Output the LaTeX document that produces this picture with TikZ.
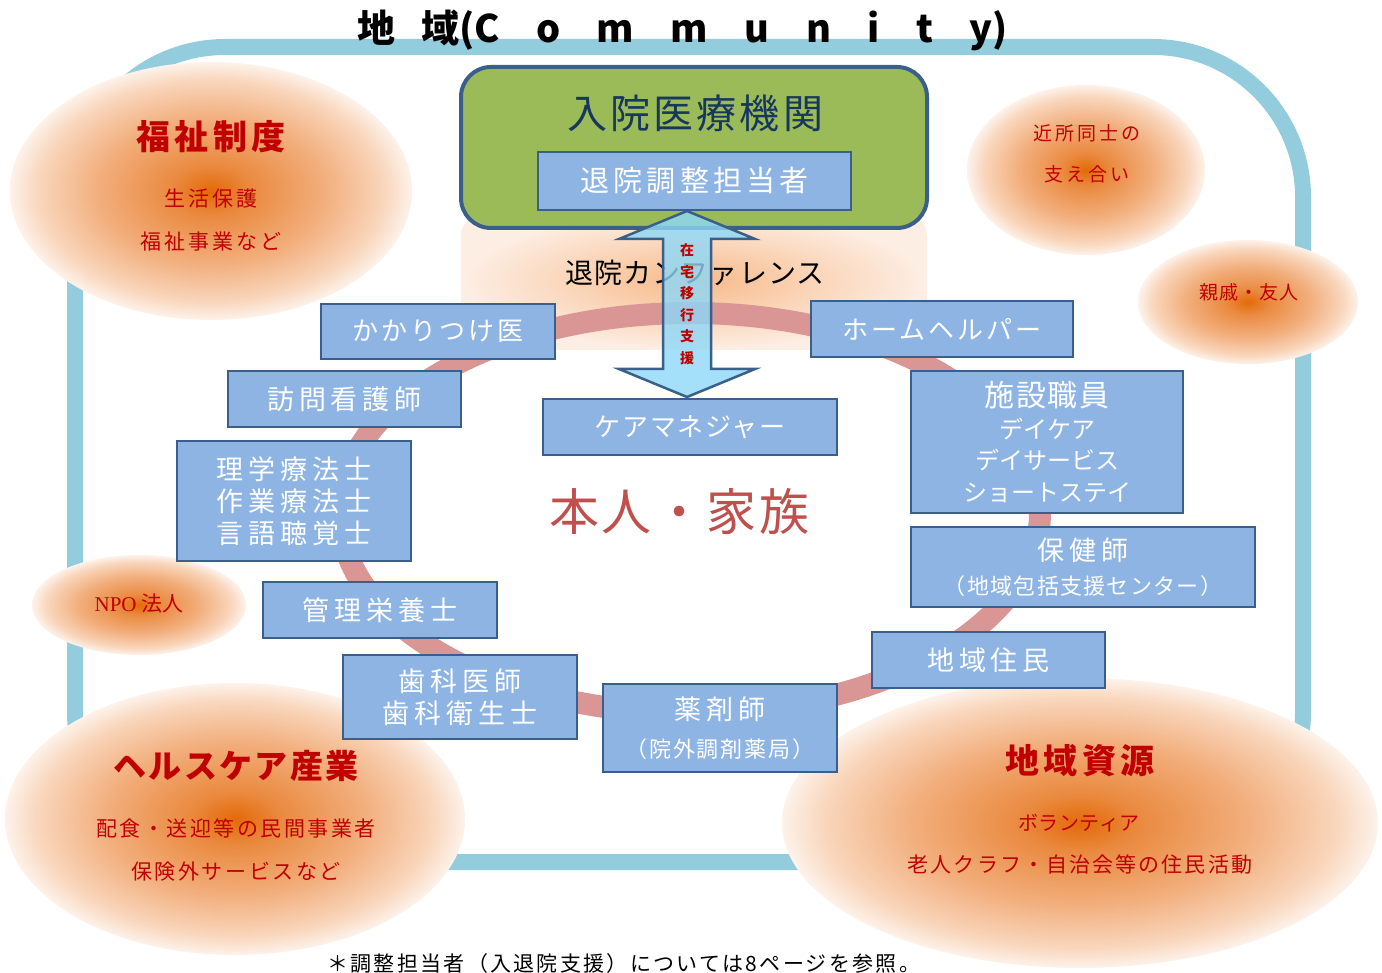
\documentclass[tikz,border=0pt]{standalone}
\usepackage{fontspec}
\setmainfont{Noto Sans CJK JP}
\newfontfamily\npofont{Liberation Serif}
\newcommand\fs[3]{\fontsize{#1}{#2}\selectfont\addfontfeature{LetterSpace=#3}}
\newcommand\tgap{\hspace{36.5pt}}
\definecolor{frameC}{HTML}{93CDDD}
\definecolor{ringC}{HTML}{D99694}
\definecolor{boxF}{HTML}{8EB4E3}
\definecolor{boxB}{HTML}{3A5F8B}
\definecolor{greenF}{HTML}{9BBB59}
\definecolor{navyT}{HTML}{17375E}
\definecolor{selfC}{HTML}{C0504D}
\definecolor{blobT}{HTML}{C00000}
\definecolor{arrowF}{HTML}{8DD8F8}
\definecolor{arrowB}{HTML}{3A5F8B}
\definecolor{blobA}{HTML}{E36A08}
\definecolor{blobB}{HTML}{EA8A40}
\definecolor{blobC}{HTML}{F2AE7C}
\definecolor{blobD}{HTML}{F9D6BC}
\definecolor{blobE}{HTML}{FDF2EA}
\definecolor{peachA}{HTML}{F7BA8A}
\definecolor{peachB}{HTML}{FAD3B5}
\definecolor{peachC}{HTML}{FDEEE4}
\pgfdeclareradialshading{blobsh}{\pgfpoint{0bp}{0bp}}{color(0bp)=(blobA); color(5bp)=(blobB); color(14bp)=(blobC); color(21.5bp)=(blobD); color(25bp)=(blobE); color(50bp)=(blobE)}
\pgfdeclareradialshading{peachsh}{\pgfpoint{0bp}{0bp}}{color(0bp)=(peachA); color(12bp)=(peachB); color(25bp)=(peachC); color(50bp)=(peachC)}
\begin{document}
\begin{tikzpicture}[x=1pt,y=-1pt,
  lbox/.style={draw=boxB, line width=2.5pt, fill=boxF, text=white, inner sep=0pt, align=center},
  lab/.style={font=\fs{27}{32}{18}},
  labs/.style={font=\fs{26}{30}{12}},
  blobt/.style={text=blobT, inner sep=0pt, align=center},
  blobbig/.style={blobt, font=\bfseries\fs{34}{40}{12}},
  blobsm/.style={blobt, font=\fs{21}{24}{14}},
]
\useasboundingbox (0,0) rectangle (1382,973);
% community frame
\draw[frameC, line width=16pt, rounded corners=150pt] (75,47) rectangle (1303,862);
% resource blobs
\shade[shading=blobsh] (211,191) ellipse [x radius=201pt, y radius=129pt];
\shade[shading=blobsh] (1086,170) ellipse [x radius=119pt, y radius=85pt];
\shade[shading=blobsh] (1248,302) ellipse [x radius=110pt, y radius=62pt];
\shade[shading=blobsh] (139,605) ellipse [x radius=107pt, y radius=50pt];
\shade[shading=blobsh] (235,819) ellipse [x radius=230pt, y radius=136pt];
\shade[shading=blobsh] (1080,823) ellipse [x radius=298pt, y radius=145pt];
% blob texts
\node[blobbig] (fukushi) at (211,137) {福祉制度};
\node[blobsm] (seikatsu) at (211,199) {生活保護};
\node[blobsm] (jigyou) at (211,242) {福祉事業など};
\node[blobt, font=\fs{19}{22}{15}] (kinjo) at (1087,133) {近所同士の};
\node[blobt, font=\fs{19}{22}{15}] (sasae) at (1087,174) {支え合い};
\node[blobt, font=\fs{19}{22}{6}] (shinseki) at (1249,292) {親戚・友人};
\node[blobt, font=\fontsize{21}{24}\selectfont] (npo) at (139,604) {{\npofont NPO} 法人};
\node[blobt, font=\bfseries\fs{33}{40}{7}] (health) at (236,766) {ヘルスケア産業};
\node[blobt, font=\fs{21}{24}{12}] (haishoku) at (236,828) {配食・送迎等の民間事業者};
\node[blobt, font=\fs{21}{24}{12}] (hokengai) at (236,872) {保険外サービスなど};
\node[blobbig] (shigen) at (1080,761) {地域資源};
\node[blobt, font=\fs{20}{24}{2}] (volunteer) at (1079,823) {ボランティア};
\node[blobt, font=\fs{21}{24}{10}] (roujin) at (1080,865) {老人クラフ・自治会等の住民活動};
% title
\node[anchor=west, inner sep=0pt, font=\bfseries\fontsize{38}{40}\selectfont] (title) at (357,30) {地\hspace{26pt}域(C\tgap o\tgap m\tgap m\tgap u\tgap n\tgap i\tgap t\tgap y)};
% discharge conference band
\shade[shading=peachsh, rounded corners=25pt] (461,212) rectangle (927,350);
\node[font=\fs{28}{30}{4}] (conf) at (695,273) {退院カンファレンス};
% ring
\draw[ringC, line width=22pt] (690,513) ellipse [x radius=350pt, y radius=200pt];
% hospital
\node[draw=boxB, line width=4pt, fill=greenF, rounded corners=30pt, minimum width=466pt, minimum height=161pt, inner sep=0pt] (hosp) at (694,147.5) {};
\node[text=navyT, font=\fs{40}{42}{8}] (hospt) at (695,113) {入院医療機関};
\node[lbox, minimum width=313pt, minimum height=58pt, font=\fs{29}{30}{14}] (coord) at (694.5,181) {退院調整担当者};
% professional boxes
\node[lbox, labs, minimum width=234pt, minimum height=55pt] (kakari) at (438,331.5) {かかりつけ医};
\node[lbox, labs, minimum width=262pt, minimum height=56pt] (home) at (942,329) {ホームヘルパー};
\node[lbox, lab, minimum width=233pt, minimum height=56pt] (houmon) at (344.5,399) {訪問看護師};
\node[lbox, font=\fs{26}{30}{6}, minimum width=294pt, minimum height=56pt] (care) at (690,427) {ケアマネジャー};
\node[lbox, lab, minimum width=234pt, minimum height=120pt] (rigaku) at (294,501) {理学療法士\\作業療法士\\言語聴覚士};
\node[lbox, font=\fontsize{24}{31.5}\selectfont, minimum width=272pt, minimum height=142pt] (shisetsu) at (1047,442) {{\fs{30}{31.5}{6}施設職員}\\デイケア\\デイサービス\\ショートステイ};
\node[lbox, font=\fs{22}{34}{6}, minimum width=344pt, minimum height=80pt] (hoken) at (1083,567) {{\fs{27}{34}{18}保健師}\\（地域包括支援センター）};
\node[lbox, lab, minimum width=234pt, minimum height=56pt] (kanri) at (380,610) {管理栄養士};
\node[lbox, lab, minimum width=233pt, minimum height=56pt] (juumin) at (988.5,660) {地域住民};
\node[lbox, lab, minimum width=234pt, minimum height=84pt] (shika) at (460,697) {歯科医師\\歯科衛生士};
\node[lbox, font=\fs{22}{38}{9}, minimum width=234pt, minimum height=88pt] (yaku) at (720,728) {{\fs{27}{38}{18}薬剤師}\\（院外調剤薬局）};
% transition support arrow
\coordinate (atop) at (687,211);
\coordinate (abot) at (687,397);
\draw[arrowB, line width=2.5pt, fill=arrowF, fill opacity=0.8, line join=miter]
  (atop) -- ++(68,28) -- ++(-44,0) -- ++(0,130) -- ++(44,0) -- (abot)
  -- ++(-68,-28) -- ++(44,0) -- ++(0,-130) -- ++(-44,0) -- cycle;
\node[text=blobT, font=\bfseries\fontsize{14}{21.5}\selectfont, align=center, inner sep=0pt] (zaitaku) at (687,304) {在\\宅\\移\\行\\支\\援};
% person and family
\node[text=selfC, font=\fs{50}{52}{5}] (self) at (679,512) {本人・家族};
% footnote
\node[anchor=west, inner sep=0pt, font=\fs{21}{24}{11}] (note) at (327,964) {＊調整担当者（入退院支援）については8ページを参照。};
\end{tikzpicture}
\end{document}
